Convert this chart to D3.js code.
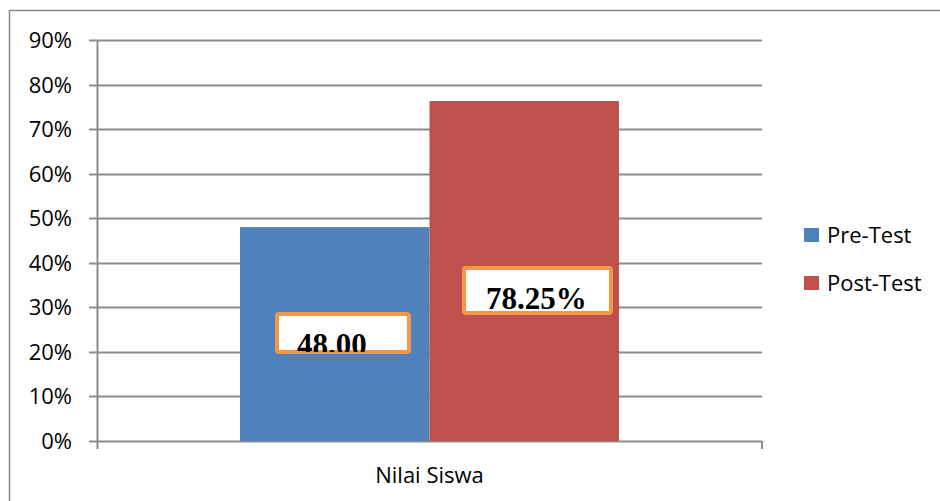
<!DOCTYPE html>
<html>
<head>
<meta charset="utf-8">
<script src="https://cdn.jsdelivr.net/npm/d3@7"></script>
<style>
  body { margin: 0; background: #fff; }
  svg { display: block; }
</style>
</head>
<body>
<svg id="chart" width="940" height="501"></svg>
<script>

// Data.
var categories = ['Nilai Siswa'];
var seriesNames = ['Pre-Test', 'Post-Test'];
var seriesValues = [0.48, 0.763];
var seriesLabels = ['48.00', '78.25%'];
var seriesColors = ['#4f81bd', '#c0504d'];
var yTicks = [0, 0.1, 0.2, 0.3, 0.4, 0.5, 0.6, 0.7, 0.8, 0.9];

/*
 * Draw chart.
 *
 * @return void.
 */
(function() {

  // Getters.
  var svg = d3.select('#chart');
  var plot = { left: 97, right: 762, top: 40, bottom: 441 };

  // Scales.
  var y = d3.scaleLinear().domain([0, 0.9]).range([plot.bottom, plot.top]);
  var x = d3.scaleBand().domain(categories)
    .range([plot.left, plot.right]).paddingInner(0).paddingOuter(0);
  var inner = d3.scaleBand().domain(seriesNames)
    .range([0, x.bandwidth()]).paddingInner(0).paddingOuter(0.755);

  // Outer frame.
  svg.append('rect')
    .attr('x', 9.5).attr('y', 10.5)
    .attr('width', 940).attr('height', 500)
    .attr('fill', 'none').attr('stroke', '#898989').attr('stroke-width', 1.5);

  // Gridlines.
  svg.append('g').selectAll('line').data(yTicks).join('line')
    .attr('x1', plot.left - 8).attr('x2', plot.right)
    .attr('y1', function(d) { return Math.round(y(d)) + 0.5; })
    .attr('y2', function(d) { return Math.round(y(d)) + 0.5; })
    .attr('stroke', '#8c8c8c').attr('stroke-width', 2);

  // Y labels.
  svg.append('g').selectAll('text').data(yTicks).join('text')
    .attr('x', 72)
    .attr('y', function(d) { return y(d) + 8; })
    .attr('text-anchor', 'end')
    .attr('font-family', 'Open Sans, sans-serif')
    .attr('font-size', 22)
    .attr('fill', '#000')
    .text(d3.format('.0%'));

  // Bars.
  var bars = svg.append('g');
  categories.forEach(function(c) {
    seriesNames.forEach(function(s, i) {
      bars.append('rect')
        .attr('x', x(c) + inner(s))
        .attr('y', y(seriesValues[i]))
        .attr('width', inner.bandwidth())
        .attr('height', y(0) - y(seriesValues[i]))
        .attr('fill', seriesColors[i]);
    });
  });

  // Axes lines.
  svg.append('line')
    .attr('x1', plot.left + 0.5).attr('x2', plot.left + 0.5)
    .attr('y1', plot.top).attr('y2', plot.bottom + 8)
    .attr('stroke', '#8c8c8c').attr('stroke-width', 2);
  svg.append('line')
    .attr('x1', plot.right).attr('x2', plot.right)
    .attr('y1', plot.bottom).attr('y2', plot.bottom + 8)
    .attr('stroke', '#8c8c8c').attr('stroke-width', 2);

  // Category label.
  svg.append('g').selectAll('text').data(categories).join('text')
    .attr('x', function(d) { return x(d) + x.bandwidth() / 2; })
    .attr('y', 483)
    .attr('text-anchor', 'middle')
    .attr('font-family', 'Open Sans, sans-serif')
    .attr('font-size', 22)
    .text(function(d) { return d; });

  // Data label boxes (clipped like the original).
  var boxes = [
    { x: 277, y: 314, w: 132, h: 38, tx: 297, ty: 355 },
    { x: 464, y: 268, w: 147, h: 45, tx: 486, ty: 309 }
  ];
  var defs = svg.append('defs');
  boxes.forEach(function(b, i) {
    defs.append('clipPath').attr('id', 'clip' + i)
      .append('rect').attr('x', b.x).attr('y', b.y)
      .attr('width', b.w).attr('height', b.h);
    svg.append('rect')
      .attr('x', b.x).attr('y', b.y).attr('width', b.w).attr('height', b.h)
      .attr('rx', 2)
      .attr('fill', '#fff').attr('stroke', '#f79646').attr('stroke-width', 4);
    svg.append('text')
      .attr('clip-path', 'url(#clip' + i + ')')
      .attr('x', b.tx).attr('y', b.ty)
      .attr('font-family', 'Liberation Serif, Times New Roman, serif')
      .attr('font-weight', 'bold')
      .attr('font-size', 31)
      .text(seriesLabels[i]);
  });

  // Legend.
  var legend = svg.append('g').selectAll('g').data(seriesNames).join('g')
    .attr('transform', function(d, i) { return 'translate(804,' + (228 + i * 48) + ')'; });
  legend.append('rect')
    .attr('width', 15).attr('height', 14)
    .attr('fill', function(d, i) { return seriesColors[i]; });
  legend.append('text')
    .attr('x', 23).attr('y', 15)
    .attr('font-family', 'Open Sans, sans-serif')
    .attr('font-size', 22)
    .text(function(d) { return d; });

})();

</script>
</body>
</html>
